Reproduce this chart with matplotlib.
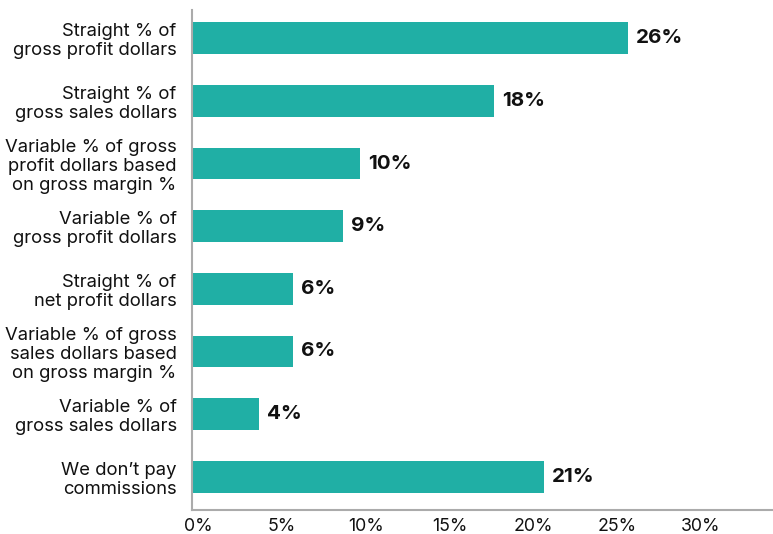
import matplotlib
matplotlib.use("Agg")
import matplotlib.pyplot as plt
import matplotlib.transforms as mtransforms

plt.rcParams['font.family'] = ['Inter', 'DejaVu Sans']

categories = [
    "Straight % of\ngross profit dollars",
    "Straight % of\ngross sales dollars",
    "Variable % of gross\nprofit dollars based\non gross margin %",
    "Variable % of\ngross profit dollars",
    "Straight % of\nnet profit dollars",
    "Variable % of gross\nsales dollars based\non gross margin %",
    "Variable % of\ngross sales dollars",
    "We don\u2019t pay\ncommissions",
]
values = [26, 18, 10, 9, 6, 6, 4, 21]
xticks = [0, 5, 10, 15, 20, 25, 30]
xtick_labels = ["0%", "5%", "10%", "15%", "20%", "25%", "30%"]

bar_color = "#20AFA5"
spine_color = "#ABABAB"

W, H = 773, 534
fig = plt.figure(figsize=(W / 100, H / 100), dpi=100)
ax = fig.add_axes([192 / W, (H - 510) / H, (W - 192) / W, 500 / H])

pos = list(range(len(categories)))
ax.barh(pos, values, height=0.51, color=bar_color)

for y, v in zip(pos, values):
    ax.annotate(f"{v}%", xy=(v, y), xytext=(5.8, 0), textcoords="offset points",
                ha="left", va="center", fontsize=14.8, fontweight="bold",
                color="#111111")

ax.set_xlim(0, 34.65)
ax.set_ylim(7.53, -0.45)

ax.set_yticks(pos)
ax.set_yticklabels(categories, fontsize=13.3, color="#111111", linespacing=1.15)
ax.set_xticks(xticks)
ax.set_xticklabels(xtick_labels, fontsize=12.8, color="#111111")
ax.tick_params(axis="y", length=0, pad=11)
ax.tick_params(axis="x", length=0, pad=6)

shift = mtransforms.ScaledTranslation(6 / 100, 0, fig.dpi_scale_trans)
for lbl in ax.get_xticklabels():
    lbl.set_transform(lbl.get_transform() + shift)

for side in ("top", "right"):
    ax.spines[side].set_visible(False)
for side in ("left", "bottom"):
    ax.spines[side].set_color(spine_color)
    ax.spines[side].set_linewidth(1.5)

fig.savefig("out.png", dpi=100)
